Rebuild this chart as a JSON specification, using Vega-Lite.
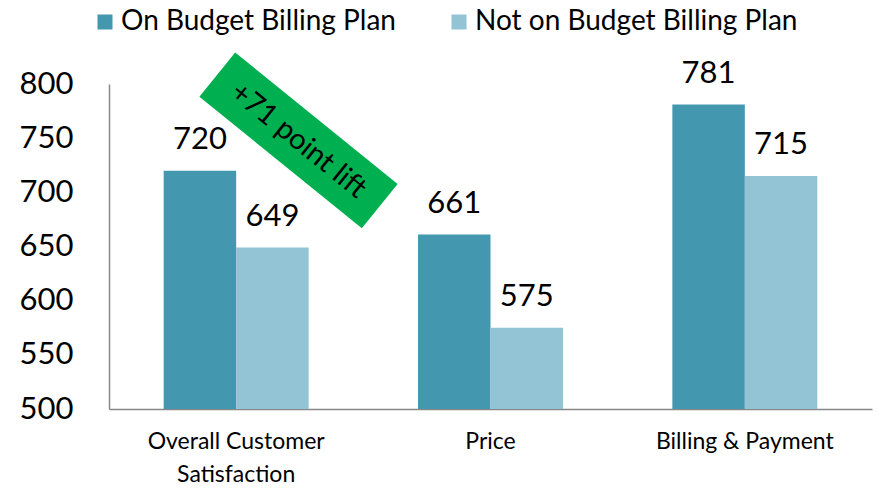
{
  "$schema": "https://vega.github.io/schema/vega-lite/v6.json",
  "width": 763,
  "height": 325,
  "autosize": {"type": "none"},
  "padding": {"left": 109, "top": 84, "right": 5, "bottom": 80},
  "background": "white",
  "config": {
    "view": {"stroke": null},
    "font": "Lato",
    "axis": {"grid": false, "ticks": false, "domainColor": "#888888", "domainWidth": 1.5, "labelColor": "#000000", "labelFont": "Lato", "title": null}
  },
  "datasets": {
    "bars": [
      {"category": "Overall Customer Satisfaction", "group": "On Budget Billing Plan", "value": 720},
      {"category": "Overall Customer Satisfaction", "group": "Not on Budget Billing Plan", "value": 649},
      {"category": "Price", "group": "On Budget Billing Plan", "value": 661},
      {"category": "Price", "group": "Not on Budget Billing Plan", "value": 575},
      {"category": "Billing & Payment", "group": "On Budget Billing Plan", "value": 781},
      {"category": "Billing & Payment", "group": "Not on Budget Billing Plan", "value": 715}
    ],
    "note": [
      {"category": "Overall Customer Satisfaction", "value": 748, "label": "+71 point lift"}
    ]
  },
  "layer": [
    {
      "data": {"name": "bars"},
      "mark": {"type": "bar", "clip": true},
      "encoding": {
        "x": {"field": "category", "type": "nominal", "sort": null,
          "scale": {"paddingInner": 0.43, "paddingOuter": 0.215},
          "axis": {"labelAngle": 0, "labelFontSize": 23, "labelPadding": 21, "labelLineHeight": 33, "labelBaseline": "top", "labelLimit": 0,
            "labelExpr": "datum.label == 'Overall Customer Satisfaction' ? ['Overall Customer', 'Satisfaction'] : datum.label"}},
        "xOffset": {"field": "group", "type": "nominal", "sort": ["On Budget Billing Plan", "Not on Budget Billing Plan"]},
        "y": {"field": "value", "type": "quantitative",
          "scale": {"domain": [500, 800], "nice": false, "zero": false},
          "axis": {"values": [500, 550, 600, 650, 700, 750, 800], "labelFontSize": 31, "labelPadding": 36}},
        "color": {"field": "group", "type": "nominal", "sort": ["On Budget Billing Plan", "Not on Budget Billing Plan"],
          "scale": {"domain": ["On Budget Billing Plan", "Not on Budget Billing Plan"], "range": ["#4398B0", "#93C4D5"]},
          "legend": {"title": null, "orient": "none", "direction": "horizontal", "legendX": -18, "legendY": -76,
            "symbolType": "square", "symbolSize": 225, "symbolStrokeWidth": 0, "labelFontSize": 28, "labelColor": "#000000",
            "labelOffset": 2, "columnPadding": 49, "labelLimit": 0}}
      }
    },
    {
      "data": {"name": "bars"},
      "mark": {"type": "text", "fontSize": 31, "baseline": "bottom", "dy": -15, "color": "#000000"},
      "encoding": {
        "x": {"field": "category", "type": "nominal", "sort": null},
        "xOffset": {"field": "group", "type": "nominal", "sort": ["On Budget Billing Plan", "Not on Budget Billing Plan"]},
        "y": {"field": "value", "type": "quantitative"},
        "text": {"field": "value", "type": "quantitative"}
      }
    },
    {
      "data": {"name": "note"},
      "mark": {"type": "point", "shape": "M-1,-0.272L1,-0.272L1,0.272L-1,0.272Z", "filled": true, "color": "#00B050", "opacity": 1, "angle": 39},
      "encoding": {
        "x": {"field": "category", "type": "nominal", "sort": null, "bandPosition": 0.93},
        "y": {"field": "value", "type": "quantitative"},
        "size": {"value": 43700}
      }
    },
    {
      "data": {"name": "note"},
      "mark": {"type": "text", "fontSize": 29, "angle": 39, "align": "center", "baseline": "middle", "color": "#000000"},
      "encoding": {
        "x": {"field": "category", "type": "nominal", "sort": null, "bandPosition": 0.93},
        "y": {"field": "value", "type": "quantitative"},
        "text": {"field": "label", "type": "nominal"}
      }
    }
  ]
}
